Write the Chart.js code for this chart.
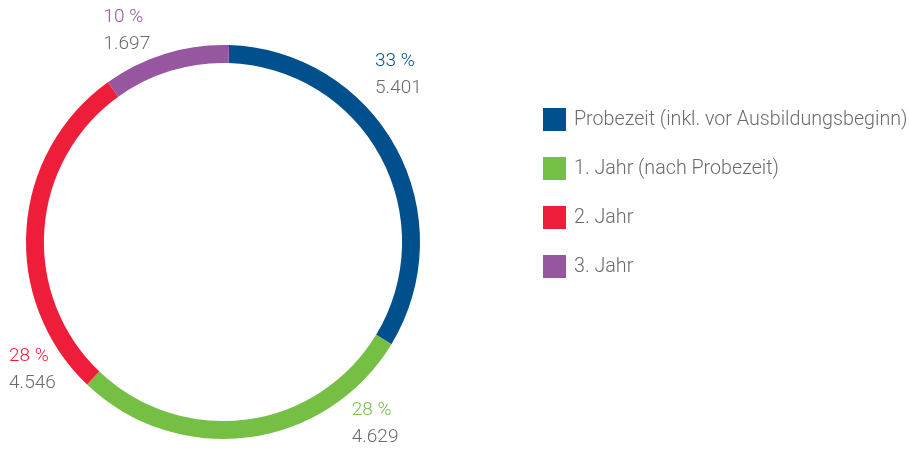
<!DOCTYPE html>
<html>
<head>
<meta charset="utf-8">
<script src="https://cdn.jsdelivr.net/npm/chart.js@4.4.1/dist/chart.umd.min.js"></script>
<style>
    body { margin: 0; background: #fff; }
    #wrap { width: 909px; height: 450px; }
</style>
</head>
<body>
<div id="wrap"><canvas id="donut" width="909" height="450"></canvas></div>
<script>
const categories = ['Probezeit (inkl. vor Ausbildungsbeginn)', '1. Jahr (nach Probezeit)', '2. Jahr', '3. Jahr'];
const values = [5401, 4629, 4546, 1697];
const colors = ['#00508e', '#75c044', '#ee1e3b', '#9657a0'];
// where along each arc the outside label sits (0 = start, 1 = end) and how far out
const labelAt = [0.37, 0.18, 0.13, 0.31];
const labelGap = [47, 38, 31, 38];

const FONT = '300 19.7px Roboto, "Liberation Sans", sans-serif';
const LABEL_FONT = '300 19px Roboto, "Liberation Sans", sans-serif';
const GREY = '#6b6b6b';

const total = values.reduce((a, b) => a + b, 0);

function formatDE(n) {
    return String(n).replace(/\B(?=(\d{3})+(?!\d))/g, '.');
}

// percent + value next to each slice
const sliceLabels = {
    id: 'sliceLabels',
    afterDatasetsDraw(chart) {
        const ctx = chart.ctx;
        const meta = chart.getDatasetMeta(0);
        ctx.save();
        ctx.font = LABEL_FONT;
        ctx.textAlign = 'left';
        ctx.textBaseline = 'alphabetic';
        meta.data.forEach((arc, i) => {
            const p = arc.getProps(['x', 'y', 'startAngle', 'endAngle', 'outerRadius'], true);
            const a = p.startAngle + (p.endAngle - p.startAngle) * labelAt[i];
            const r = p.outerRadius + labelGap[i];
            const cx = p.x + Math.cos(a) * r;
            const cy = p.y + Math.sin(a) * r;
            const pct = Math.round(values[i] / total * 100) + ' %';
            const val = formatDE(values[i]);
            const w = Math.max(ctx.measureText(pct).width, ctx.measureText(val).width);
            const left = cx - w / 2;
            ctx.fillStyle = colors[i];
            ctx.fillText(pct, left, cy - 6);
            ctx.fillStyle = GREY;
            ctx.fillText(val, left, cy + 21);
        });
        ctx.restore();
    }
};

// legend on the right
const sideLegend = {
    id: 'sideLegend',
    afterDraw(chart) {
        const ctx = chart.ctx;
        ctx.save();
        ctx.font = FONT;
        ctx.textBaseline = 'middle';
        categories.forEach((c, i) => {
            const top = 108 + i * 49;
            ctx.fillStyle = colors[i];
            ctx.fillRect(543, top, 23, 23);
            ctx.fillStyle = GREY;
            ctx.fillText(c, 574, top + 12);
        });
        ctx.restore();
    }
};

new Chart(document.getElementById('donut'), {
    type: 'doughnut',
    data: {
        labels: categories,
        datasets: [{
            data: values,
            backgroundColor: colors,
            borderWidth: 0
        }]
    },
    options: {
        responsive: false,
        animation: false,
        cutout: '90.9%',
        rotation: 1.75,
        layout: {
            padding: { left: 26, right: 489, top: 45, bottom: 11 }
        },
        plugins: {
            legend: { display: false },
            tooltip: { enabled: false }
        }
    },
    plugins: [sliceLabels, sideLegend]
});
</script>
</body>
</html>
